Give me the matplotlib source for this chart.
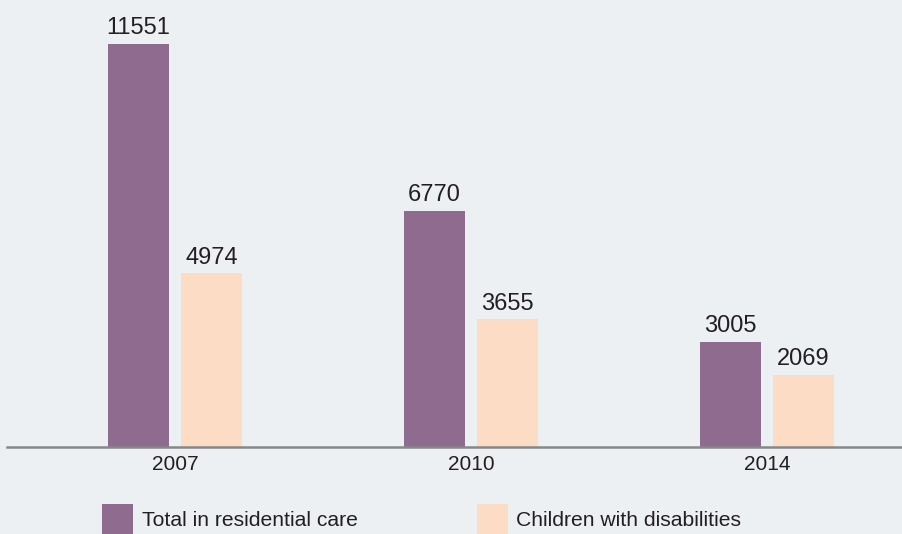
import matplotlib.pyplot as plt
from matplotlib.patches import Rectangle
import numpy as np

plt.rcParams['font.family'] = ['Liberation Sans', 'DejaVu Sans']

years = ['2007', '2010', '2014']
total_care = [11551, 6770, 3005]
disabilities = [4974, 3655, 2069]
series_names = ['Total in residential care', 'Children with disabilities']

bg = '#edf0f3'
purple = '#8f6b8f'
peach = '#fddcc5'
text_col = '#231f20'

W, H = 903, 534
fig = plt.figure(figsize=(W / 100, H / 100), dpi=100, facecolor=bg)
ax = fig.add_axes([7 / W, 87 / H, (W - 7) / W, 447 / H], facecolor=bg)

x = np.arange(len(years))
bw = 61 / 296
off = 36.5 / 296

b1 = ax.bar(x - off, total_care, bw, color=purple)
b2 = ax.bar(x + off, disabilities, bw, color=peach)

for bars, vals in ((b1, total_care), (b2, disabilities)):
    for rect, v in zip(bars, vals):
        ax.annotate(str(v), (rect.get_x() + rect.get_width() / 2, v),
                    xytext=(0, 3.5), textcoords='offset points',
                    ha='center', va='bottom', fontsize=17, color=text_col)

ax.set_xlim((7 - 175) / 296, (W - 175) / 296)
ax.set_ylim(0, 447 / 0.03489)

ax.set_xticks(x)
ax.set_xticklabels(years, fontsize=15, color=text_col)
ax.tick_params(axis='x', length=0, pad=6)
ax.set_yticks([])
for s in ('top', 'right', 'left'):
    ax.spines[s].set_visible(False)
ax.spines['bottom'].set_color('#878787')
ax.spines['bottom'].set_linewidth(1.8)

# legend drawn by hand below the axis
for (px, tx), col, name in zip(((102, 142), (477, 516)), (purple, peach), series_names):
    fig.patches.append(Rectangle((px / W, (H - 535) / H), 31 / W, 31 / H,
                                 transform=fig.transFigure, facecolor=col,
                                 edgecolor='none'))
    fig.text(tx / W, (H - 520) / H, name, ha='left', va='center',
             fontsize=15.2, color=text_col)

fig.savefig('out.png', dpi=100, facecolor=bg)
